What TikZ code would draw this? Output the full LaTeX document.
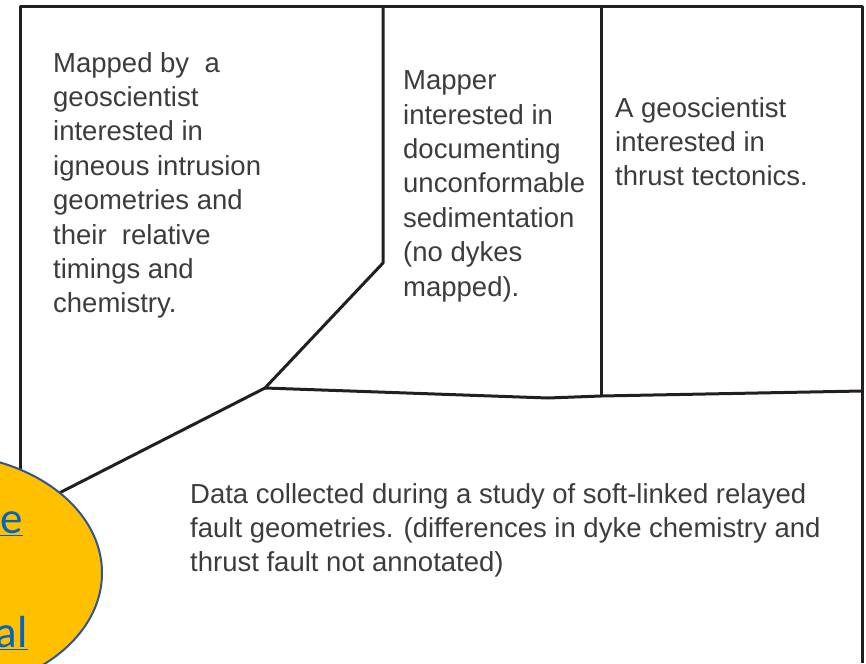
\documentclass[tikz,border=0pt]{standalone}
\usepackage{fontspec}
\setmainfont{Liberation Sans}
\newfontfamily\linkfont{Carlito}
\usepackage{tikz}
\usetikzlibrary{calc}
\definecolor{linecol}{HTML}{231F20}
\definecolor{textcol}{HTML}{3C3C3C}
\definecolor{bubblefill}{HTML}{FFC000}
\definecolor{bubbleedge}{HTML}{2F5597}
\definecolor{linkblue}{HTML}{0563C1}
\tikzset{
	mapline/.style={line width=3pt, color=linecol, line join=round},
	maptext/.style={anchor=north west, inner sep=0pt, align=left, text=textcol, font=\fontsize{27.5}{34.4}\selectfont},
	linktext/.style={anchor=base east, inner sep=0pt, text=linkblue, font=\linkfont\fontsize{45}{55}\selectfont}
}

\begin{document}
\begin{tikzpicture}[x=1pt,y=-1pt]
			%%%%% START %%%%%
			\useasboundingbox (0,0) rectangle (866,663);
			\clip (0,0) rectangle (866,663);
			
			% frame
			\draw[mapline] (20,663) -- (20,6.5) -- (862,6.5) -- (862,663);
			
			% map boundaries
			\draw[mapline] (383,6.5) -- (383,263) -- (265,388) -- (20,513);
			\draw[mapline] (265,388) -- (548,398) -- (601,396) -- (862,391);
			\draw[mapline] (601,6.5) -- (601,396);
			
			\node[maptext] (igneous) at (53,52) {Mapped by\ \ a\\geoscientist\\interested in\\igneous intrusion\\geometries and\\their\ \ relative\\timings and\\chemistry.};
			\node[maptext] (sedimentation) at (403,70.5) {Mapper\\interested in\\documenting\\unconformable\\sedimentation\\(no dykes\\mapped).};
			\node[maptext] (thrust) at (615,97) {A geoscientist\\interested in\\thrust tectonics.};
			\node[maptext] (faults) at (190,483) {Data collected during a study of soft-linked relayed\\fault geometries. (differences in dyke chemistry and\\thrust fault not annotated)};
			
			% link bubble
			\draw[fill=bubblefill, draw=bubbleedge, line width=2pt] (-60,573) ellipse [x radius=162pt, y radius=119pt];
			\node[linktext] (linkone) at (23,533) {\underline{e}};
			\node[linktext] (linktwo) at (28,647) {\underline{al}};
			
			%%%%% END %%%%%
\end{tikzpicture}
\end{document}
